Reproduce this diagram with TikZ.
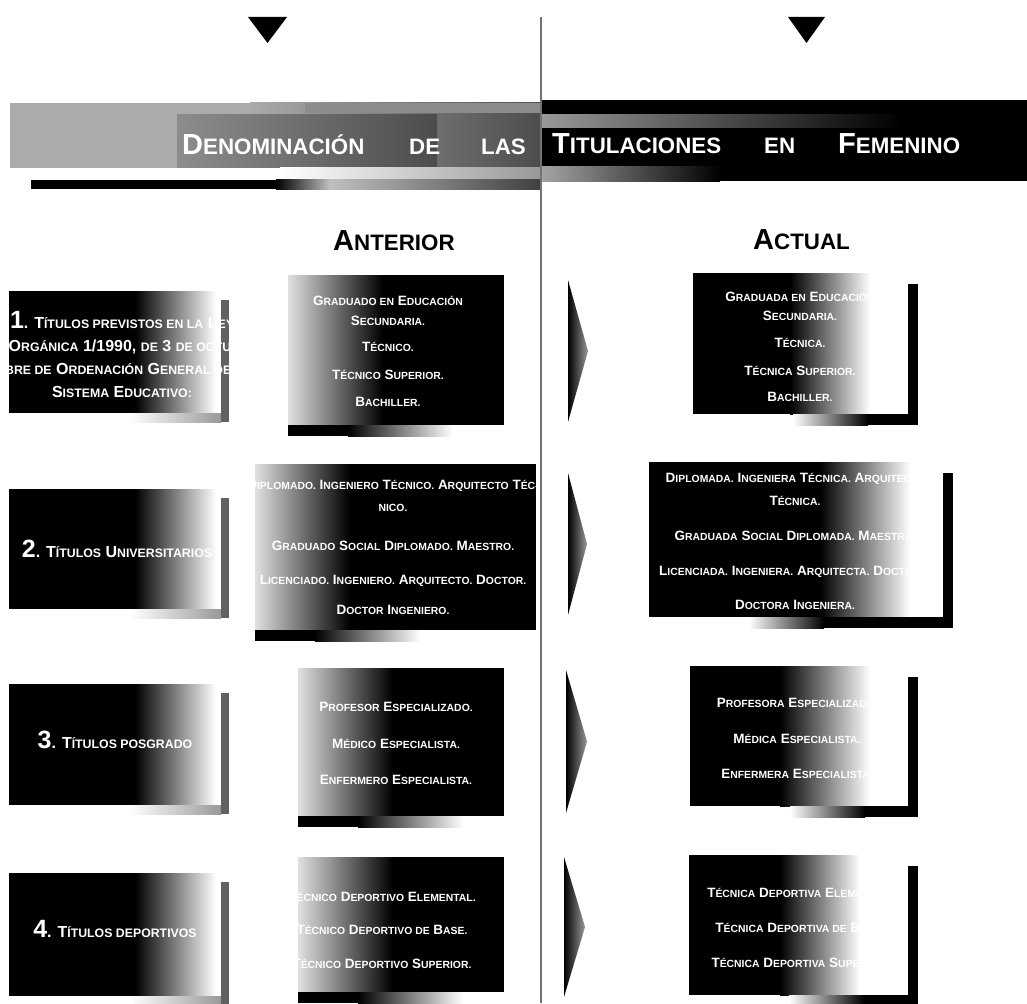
\documentclass[tikz,border=0pt]{standalone}
\usepackage{fontspec}
\setmainfont{Liberation Sans}
\usepackage{graphicx}
\newcommand\sk[1]{\scalebox{0.77}{#1}}
\newcommand\bignum[1]{{\fontsize{25}{23}\selectfont #1}}
\newcommand\LblBox[2]{%
 \fill[black] (9,#1) rectangle (135,#2);
 \shade[left color=black,right color=white] (135,#1) rectangle (216,#2);
 \shade[left color=white,right color=black!40] (130,#2) rectangle (221,{#2+9});
 \fill[black!62] (221,{#1+9}) rectangle (229,{#2+9});
}
\newcommand\AntBox[4]{%
 \shade[left color=black!12,right color=black] (#1,#3) rectangle ({#1+95},#4);
 \fill[black] ({#1+95},#3) rectangle (#2,#4);
 \fill[black] (#1,#4) rectangle ({#1+60},{#4+11});
 \shade[left color=black,right color=white] ({#1+60},#4) rectangle ({#1+165},{#4+11});
}
\newcommand\ActBox[6]{%
 \fill[black] (#1,#3) rectangle (#5,#4);
 \shade[left color=black,right color=white] (#5,#3) rectangle (#6,#4);
 \shade[left color=white,right color=black] ({#1+100},#4) rectangle ({#1+175},{#4+11});
 \fill[black] ({#1+175},#4) rectangle ({#2+15},{#4+11});
 \fill[black] ({#2+5},{#3+11}) rectangle ({#2+15},{#4+11});
}
\newcommand\PtrShape[4]{%
 \shade[left color=black,middle color=black,right color=black!40] (#1,#3) -- (#2,{(#3+#4)/2}) -- (#1,#4) -- cycle;
}
\begin{document}
\begin{tikzpicture}[x=1pt,y=-1pt,
  ttl/.style={font=\bfseries\fontsize{29}{34}\selectfont, text=white, anchor=base west, inner sep=0pt},
  hdr/.style={font=\bfseries\fontsize{29}{34}\selectfont, text=black, anchor=base west, inner sep=0pt},
  boxtxt/.style={font=\bfseries\fontsize{13.5}{20}\selectfont, text=white, align=center, anchor=base, inner sep=0pt},
  lbltxt/.style={font=\bfseries\fontsize{16}{23}\selectfont, text=white, align=center, anchor=base, inner sep=0pt}]
\useasboundingbox (0,0) rectangle (1027,1003);
\fill[white] (0,0) rectangle (1027,1003);

% top triangles
\fill[black] (248,17) -- (287,17) -- (267.5,43) -- cycle;
\fill[black] (788,17) -- (825,17) -- (806.5,43) -- cycle;

% title band left
\fill[black!33] (10,103) rectangle (250,168);
\shade[left color=black!33,right color=black!70] (250,103) rectangle (540,168);
\shade[left color=black!45,right color=black!70] (177,115) rectangle (437,168);
\fill[black!45] (305,103) rectangle (540,113);
\shade[left color=white,right color=black!40] (280,168) rectangle (540,180);
\fill[black] (31,180) rectangle (276,189);
\shade[left color=black,right color=black!25] (276,180) rectangle (330,189);
\shade[left color=black!25,right color=black!75] (330,180) rectangle (540,189);

% title band right
\fill[black] (540,100) rectangle (1027,181);
\shade[left color=black!40,right color=black] (540,115) rectangle (900,128);
\shade[left color=black!35,right color=black] (540,167) rectangle (720,182);

\node[ttl] (d1) at (182,155) {D\sk{ENOMINACIÓN}};
\node[ttl] (d2) at (409,155) {\sk{DE}};
\node[ttl] (d3) at (481,155) {\sk{LAS}};
\node[ttl] (t1) at (552,154) {T\sk{ITULACIONES}};
\node[ttl] (t2) at (764,154) {\sk{EN}};
\node[ttl] (t3) at (838,154) {F\sk{EMENINO}};

\node[hdr] (h1) at (333,250) {A\sk{NTERIOR}};
\node[hdr] (h2) at (753,249) {A\sk{CTUAL}};

% row 1
\LblBox{291}{413}
\AntBox{288}{504}{275}{425}
\PtrShape{568}{588}{280}{422}
\ActBox{693}{903}{273}{414}{790}{870}
\node[lbltxt] (l1) at (122,397) {\bignum{1}. T\sk{ÍTULOS PREVISTOS EN LA} L\sk{EY}\\
 O\sk{RGÁNICA} 1/1990, \sk{DE} 3 \sk{DE OCTU-}\\
 \sk{BRE DE} O\sk{RDENACIÓN} G\sk{ENERAL DEL}\\
 S\sk{ISTEMA} E\sk{DUCATIVO:}};
\node[boxtxt] (a1) at (388,406) {G\sk{RADUADO EN} E\sk{DUCACIÓN}\\ S\sk{ECUNDARIA.}\\[6pt]
 T\sk{ÉCNICO.}\\[8pt] T\sk{ÉCNICO} S\sk{UPERIOR.}\\[7pt] B\sk{ACHILLER.}};
\node[boxtxt,font=\bfseries\fontsize{13.5}{19}\selectfont] (c1) at (800,401) {G\sk{RADUADA EN} E\sk{DUCACIÓN}\\ S\sk{ECUNDARIA.}\\[8pt]
 T\sk{ÉCNICA.}\\[9pt] T\sk{ÉCNICA} S\sk{UPERIOR.}\\[7pt] B\sk{ACHILLER.}};

% row 2
\LblBox{489}{609}
\AntBox{255}{536}{464}{630}
\PtrShape{568}{587}{473}{615}
\ActBox{649}{938}{462}{617}{820}{910}
\node[lbltxt] (l2) at (117,557) {\bignum{2}. T\sk{ÍTULOS} U\sk{NIVERSITARIOS}};
\node[boxtxt,font=\bfseries\fontsize{13.5}{22}\selectfont] (a2) at (393,614) {D\sk{IPLOMADO.} I\sk{NGENIERO} T\sk{ÉCNICO.} A\sk{RQUITECTO} T\sk{ÉC-}\\ \sk{NICO.}\\[17pt]
 G\sk{RADUADO} S\sk{OCIAL} D\sk{IPLOMADO.} M\sk{AESTRO.}\\[12pt]
 L\sk{ICENCIADO.} I\sk{NGENIERO.} A\sk{RQUITECTO.} D\sk{OCTOR.}\\[8pt]
 D\sk{OCTOR} I\sk{NGENIERO.}};
\node[boxtxt,font=\bfseries\fontsize{13.5}{23}\selectfont] (c2) at (795,609) {D\sk{IPLOMADA.} I\sk{NGENIERA} T\sk{ÉCNICA.} A\sk{RQUITECTA}\\ T\sk{ÉCNICA.}\\[12pt]
 G\sk{RADUADA} S\sk{OCIAL} D\sk{IPLOMADA.} M\sk{AESTRA.}\\[12pt]
 L\sk{ICENCIADA.} I\sk{NGENIERA.} A\sk{RQUITECTA.} D\sk{OCTORA.}\\[11pt]
 D\sk{OCTORA} I\sk{NGENIERA.}};

% row 3
\LblBox{684}{805}
\AntBox{298}{504}{668}{816}
\PtrShape{566}{587}{670}{813}
\ActBox{690}{903}{666}{806}{780}{870}
\node[lbltxt] (l3) at (115,748) {\bignum{3}. T\sk{ÍTULOS POSGRADO}};
\node[boxtxt,font=\bfseries\fontsize{13.5}{20}\selectfont] (a3) at (396,784) {P\sk{ROFESOR} E\sk{SPECIALIZADO.}\\[17pt]
 M\sk{ÉDICO} E\sk{SPECIALISTA.}\\[16pt] E\sk{NFERMERO} E\sk{SPECIALISTA.}};
\node[boxtxt,font=\bfseries\fontsize{13.5}{20}\selectfont] (c3) at (797,778) {P\sk{ROFESORA} E\sk{SPECIALIZADA.}\\[16pt]
 M\sk{ÉDICA} E\sk{SPECIALISTA.}\\[15pt] E\sk{NFERMERA} E\sk{SPECIALISTA.}};

% row 4
\LblBox{873}{996}
\AntBox{298}{504}{857}{992}
\PtrShape{564}{585}{857}{997}
\ActBox{689}{903}{855}{995}{780}{860}
\node[lbltxt] (l4) at (115,937) {\bignum{4}. T\sk{ÍTULOS DEPORTIVOS}};
\node[boxtxt,font=\bfseries\fontsize{13.5}{20}\selectfont] (a4) at (382,968) {T\sk{ÉCNICO} D\sk{EPORTIVO} E\sk{LEMENTAL.}\\[13pt]
 T\sk{ÉCNICO} D\sk{EPORTIVO DE} B\sk{ASE.}\\[14pt] T\sk{ÉCNICO} D\sk{EPORTIVO} S\sk{UPERIOR.}};
\node[boxtxt,font=\bfseries\fontsize{13.5}{20}\selectfont] (c4) at (800,967) {T\sk{ÉCNICA} D\sk{EPORTIVA} E\sk{LEMENTAL.}\\[15pt]
 T\sk{ÉCNICA} D\sk{EPORTIVA DE} B\sk{ASE.}\\[15pt] T\sk{ÉCNICA} D\sk{EPORTIVA} S\sk{UPERIOR.}};

% divider
\draw[black!55,line width=2.5pt] (541,17) -- (541,1003);
\end{tikzpicture}
\end{document}
